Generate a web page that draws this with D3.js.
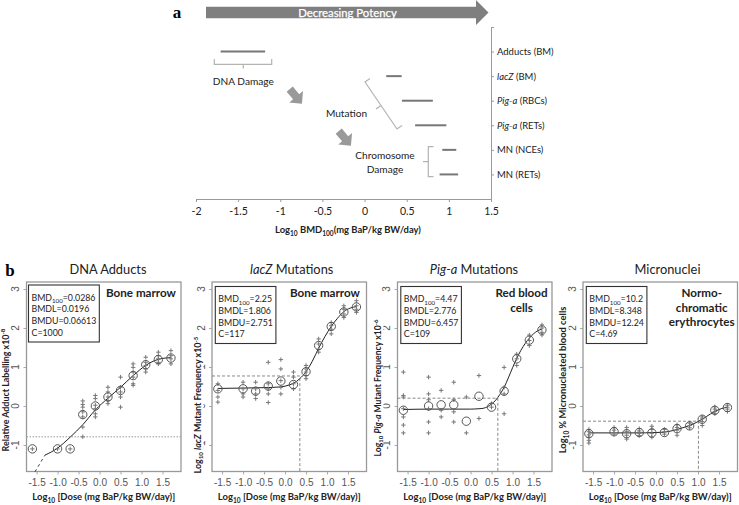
<!DOCTYPE html>
<html><head><meta charset="utf-8">
<script src="https://cdn.jsdelivr.net/npm/d3@7"></script>
<style>body{margin:0;background:#fff}svg{display:block}</style>
</head><body>
<svg id="c" width="739" height="505"></svg>
<script>
// ================= Panel a data =================
const endpoints = ["Adducts (BM)", "lacZ (BM)", "Pig-a (RBCs)", "Pig-a (RETs)", "MN (NCEs)", "MN (RETs)"];
const endpointItalic = ["", "lacZ", "Pig-a", "Pig-a", "", ""];
const bmdlLog = [-1.708, 0.257, 0.443, 0.60, 0.922, 0.89];
const bmduLog = [-1.180, 0.440, 0.810, 0.97, 1.088, 1.11];
const axisATicks = [-2, -1.5, -1, -0.5, 0, 0.5, 1, 1.5];

// ================= Panel b data =================
const doseLog = [-1.6, -1.0, -0.7, -0.4, -0.1, 0.2, 0.5, 0.8, 1.1, 1.4, 1.7];
const xTicksB = [-1.5, -1.0, -0.5, 0.0, 0.5, 1.0, 1.5];
const yTicksB = [-1, 0, 1, 2, 3];

// DNA adducts
const adductMeans = [-1.10, -1.10, -1.10, -0.22, 0.0, 0.23, 0.40, 0.78, 1.06, 1.19, 1.23];
const adductReps = [[-1.10], [-1.10], [-1.10],
  [0.13, 0.04, -0.03, -0.15, -0.28, -0.54, -0.79],
  [0.27, 0.19, 0.02, -0.07, -0.20, -0.28],
  [0.48, 0.36, 0.23, 0.14, 0.06],
  [0.74, 0.48, 0.36, 0.23, -0.03],
  [1.08, 0.99, 0.87, 0.74, 0.57, 0.53],
  [1.25, 1.12, 1.04, 0.95, 0.87],
  [1.38, 1.29, 1.21, 1.12, 1.08],
  [1.42, 1.29, 1.21, 1.08]];
const adductCurve = [[-1.30, -1.26], [-1.0, -1.08], [-0.7, -0.80], [-0.4, -0.48], [-0.1, -0.10], [0.2, 0.20], [0.5, 0.48], [0.8, 0.78], [1.1, 1.04], [1.3, 1.16], [1.5, 1.22], [1.7, 1.24]];
const adductTail = [[-1.54, -1.69], [-1.30, -1.26]];
const adductRef = -0.79;

// lacZ
const lacZMeans = [0.44, 0.44, 0.38, 0.51, 0.64, 0.55, 0.88, 1.55, 2.04, 2.41, 2.54];
const lacZReps = [[0.57, 0.40, 0.23, 0.10],
  [0.61, 0.44, 0.31, 0.23],
  [0.61, 0.44, 0.31, 0.19],
  [1.12, 0.57, 0.44, 0.31, 0.09],
  [1.19, 0.95, 0.65, 0.48, 0.31],
  [0.87, 0.74, 0.57, 0.44],
  [1.04, 0.95, 0.87, 0.78, 0.70],
  [1.72, 1.59, 1.46, 1.38],
  [2.14, 2.06, 1.97, 1.85],
  [2.57, 2.48, 2.36, 2.27],
  [2.70, 2.57, 2.48, 2.40]];
const lacZCurve = [[-1.6, 0.45], [-1.0, 0.46], [-0.5, 0.47], [-0.1, 0.49], [0.1, 0.54], [0.2, 0.58], [0.35, 0.70], [0.5, 0.88], [0.65, 1.15], [0.8, 1.48], [0.95, 1.78], [1.1, 2.04], [1.25, 2.25], [1.4, 2.42], [1.55, 2.51], [1.7, 2.55]];

// Pig-a
const pigaMeans = [-0.11, 0.0, 0.03, 0.03, -0.39, 0.25, -0.03, 0.38, 1.21, 1.69, 1.95];
const pigaReps = [[0.87, 0.27, 0.23, -0.07, -0.28, -0.49, -0.69],
  [0.74, 0.31, 0.16, -0.07, -0.41, -0.69],
  [0.40, -0.11, -0.28],
  [0.61, 0.16, -0.15, -0.41],
  [0.23, -0.69],
  [0.78, -0.32],
  [0.06, -0.03],
  [0.99, 0.48, 0.31, -0.20],
  [1.33, 1.21, 1.04],
  [1.82, 1.68, 1.55],
  [2.08, 2.00, 1.89, 1.82]];
const pigaCurve = [[-1.6, -0.09], [-1.0, -0.08], [-0.5, -0.08], [0.0, -0.08], [0.2, -0.07], [0.3, -0.06], [0.4, -0.02], [0.5, 0.05], [0.6, 0.15], [0.7, 0.30], [0.8, 0.48], [0.9, 0.72], [1.0, 0.98], [1.1, 1.22], [1.2, 1.43], [1.3, 1.60], [1.4, 1.74], [1.5, 1.85], [1.6, 1.93], [1.7, 1.97]];

// Micronuclei
const mnMeans = [-0.71, -0.66, -0.71, -0.68, -0.69, -0.68, -0.58, -0.51, -0.34, -0.11, -0.04];
const mnReps = [[-0.60, -0.66, -0.74, -0.80, -0.88, -0.95],
  [-0.55, -0.62, -0.68, -0.72],
  [-0.55, -0.65, -0.75, -0.85],
  [-0.58, -0.64, -0.70, -0.76],
  [-0.52, -0.60, -0.70, -0.80],
  [-0.60, -0.66, -0.72],
  [-0.48, -0.55, -0.62, -0.75],
  [-0.44, -0.50, -0.56],
  [-0.28, -0.33, -0.40, -0.50],
  [-0.02, -0.08, -0.14, -0.20],
  [0.02, -0.03, -0.08, -0.14]];
const mnCurve = [[-1.6, -0.69], [-1.0, -0.69], [-0.5, -0.69], [0.0, -0.68], [0.2, -0.67], [0.4, -0.63], [0.6, -0.57], [0.8, -0.50], [1.0, -0.40], [1.1, -0.34], [1.2, -0.27], [1.4, -0.14], [1.55, -0.07], [1.7, -0.03]];

// BMD box values
const bmd100Vals = ["0.0286", "2.25", "4.47", "10.2"];
const bmdlVals = ["0.0196", "1.806", "2.776", "8.348"];
const bmduVals = ["0.06613", "2.751", "6.457", "12.24"];
const cVals = ["1000", "117", "109", "4.69"];
const bmd100Log = [null, 0.352, 0.650, 1.009];
const bmdResp = [null, 0.77, 0.20, -0.39];
const tissues = [["Bone marrow"], ["Bone marrow"], ["Red blood", "cells"], ["Normo-", "chromatic", "erythrocytes"]];

// ================= drawing =================
const svg = d3.select("#c");
const FONT = "Lato, 'Open Sans', sans-serif";
svg.attr("font-family", FONT);

function rich(sel, parts, size) {
  let shift = 0;
  parts.forEach(p => {
    const ts = sel.append("tspan").text(p.t);
    let target = 0, fs = size;
    if (p.sub) { target = size * 0.28; fs = size * 0.7; }
    if (p.sup) { target = -size * 0.36; fs = size * 0.7; }
    ts.attr("dy", target - shift).attr("font-size", fs);
    if (p.it) ts.attr("font-style", "italic");
    shift = target;
  });
}
// size a text so that its width matches a width measured on the reference
function fitSize(parts, weight, target) {
  const t = svg.append("text").attr("font-weight", weight).attr("opacity", 0);
  rich(t, parts, 20);
  const w = t.node().getBBox().width;
  t.remove();
  return 20 * target / w;
}

// ---------- Panel a ----------
const gA = svg.append("g");
const xA = d3.scaleLinear().domain([-2, 1.5]).range([196, 491]);
const yA = d3.scaleLinear().domain([0, 7]).range([27, 199]);

svg.append("text").attr("x", 177).attr("y", 18).attr("text-anchor", "middle")
  .attr("font-family", "'Liberation Serif', serif").attr("font-weight", "bold").attr("font-size", 17).text("a");

// Decreasing potency arrow
const ay = 12.5;
gA.append("path")
  .attr("d", `M206,${ay - 5.7} L476,${ay - 5.7} L476,${ay - 12.5} L488.5,${ay} L476,${ay + 12.5} L476,${ay + 5.7} L206,${ay + 5.7} Z`)
  .attr("fill", "#7f7f7f");
const dpSize = fitSize([{t: "Decreasing Potency"}], "normal", 99);
gA.append("text").attr("x", 347.5).attr("y", ay + dpSize * 0.36).attr("text-anchor", "middle")
  .attr("fill", "#fff").attr("font-size", dpSize).attr("stroke", "#fff").attr("stroke-width", 0.25).text("Decreasing Potency");

const axABottom = gA.append("g").attr("transform", "translate(0,199)")
  .call(d3.axisBottom(xA).tickValues(axisATicks).tickSize(3).tickSizeOuter(0).tickFormat(d => String(d)));
axABottom.select(".domain").attr("stroke", "#9a9a9a");
axABottom.selectAll(".tick line").attr("stroke", "#9a9a9a");
axABottom.selectAll(".tick text").attr("font-family", FONT).attr("font-size", 10.5).attr("fill", "#222").attr("y", 9);

const axARight = gA.append("g").attr("transform", "translate(491,0)")
  .call(d3.axisRight(yA).tickValues([0, 1, 2, 3, 4, 5, 6]).tickSize(3).tickSizeOuter(0).tickFormat(""));
axARight.select(".domain").attr("stroke", "#9a9a9a");
axARight.selectAll(".tick line").attr("stroke", "#9a9a9a");

const catSize = fitSize([{t: "Pig-a", it: true}, {t: " (RBCs)"}], "normal", 50);
endpoints.forEach((e, i) => {
  const t = gA.append("text").attr("x", 497).attr("y", yA(i + 1) + catSize * 0.36).attr("font-size", catSize).attr("fill", "#222");
  const it = endpointItalic[i];
  if (it) {
    t.append("tspan").attr("font-style", "italic").text(it);
    t.append("tspan").text(e.slice(it.length));
  } else t.text(e);
});

gA.selectAll("line.bar").data(endpoints).enter().append("line").attr("class", "bar")
  .attr("x1", (d, i) => xA(bmdlLog[i])).attr("x2", (d, i) => xA(bmduLog[i]))
  .attr("y1", (d, i) => yA(i + 1)).attr("y2", (d, i) => yA(i + 1))
  .attr("stroke", "#777").attr("stroke-width", 2);

const axAParts = [{t: "Log"}, {t: "10", sub: true}, {t: " BMD"}, {t: "100", sub: true}, {t: "(mg BaP/kg BW/day)"}];
const axASize = fitSize(axAParts, "bold", 146);
const axATitle = gA.append("text").attr("x", 348).attr("y", 233).attr("text-anchor", "middle")
  .attr("font-weight", "bold").attr("fill", "#222");
rich(axATitle, axAParts, axASize);

// brackets & annotations
const brk = "#b3b3b3";
const annSize = fitSize([{t: "DNA Damage"}], "normal", 61);
gA.append("path").attr("d", "M214.3,59 L214.3,64.3 L271.7,64.3 L271.7,59 M243.3,64.3 L243.3,68.5")
  .attr("fill", "none").attr("stroke", brk).attr("stroke-width", 1.2);
gA.append("text").attr("x", 243.3).attr("y", 81 + annSize * 0.36).attr("text-anchor", "middle").attr("font-size", annSize).attr("fill", "#222").text("DNA Damage");

gA.append("path").attr("d", "M370,78.6 L365,82 L397,129 L402,125.6 M381,105.5 L376,108.9")
  .attr("fill", "none").attr("stroke", brk).attr("stroke-width", 1.2);
gA.append("text").attr("x", 346.5).attr("y", 113.5 + annSize * 0.36).attr("text-anchor", "middle").attr("font-size", annSize).attr("fill", "#222").text("Mutation");

gA.append("path").attr("d", "M433.5,146.7 L428.3,146.7 L428.3,176.7 L433.5,176.7 M428.3,161.7 L423,161.7")
  .attr("fill", "none").attr("stroke", brk).attr("stroke-width", 1.2);
gA.append("text").attr("x", 385).attr("y", 155 + annSize * 0.36).attr("text-anchor", "middle").attr("font-size", annSize).attr("fill", "#222").text("Chromosome");
gA.append("text").attr("x", 385).attr("y", 169.3 + annSize * 0.36).attr("text-anchor", "middle").attr("font-size", annSize).attr("fill", "#222").text("Damage");

function blockArrow(cx, cy, ang) {
  gA.append("path").attr("d", "M-9,-4 L1,-4 L1,-9 L10,0 L1,9 L1,4 L-9,4 Z")
    .attr("transform", `translate(${cx},${cy}) rotate(${ang})`).attr("fill", "#999");
}
blockArrow(295.5, 96, 50);
blockArrow(344.5, 138, 50);

// ---------- Panel b ----------
svg.append("text").attr("x", 10).attr("y", 276).attr("text-anchor", "middle")
  .attr("font-family", "'Liberation Serif', serif").attr("font-weight", "bold").attr("font-size", 17).text("b");

const panelLeft = [26.5, 212, 397.5, 583];
const pW = 154.5, pTop = 282, pBot = 471.5;
const titleCx = [108, 291.7, 474, 667.5];
const ylabX = [8.5, 201, 381, 566];
const ylabCy = [390, 405, 388, 380];
const ylabW = [123, 137, 137, 147];
const tissueDx = [114.5, 113, 124, 118.7];

const panels = [
  {title: [{t: "DNA Adducts"}], ylab: [{t: "Relative Adduct Labelling x10"}, {t: "-8", sup: true}],
   means: adductMeans, reps: adductReps, curve: adductCurve},
  {title: [{t: "lacZ", it: true}, {t: " Mutations"}], ylab: [{t: "Log"}, {t: "10", sub: true}, {t: " "}, {t: "lacZ", it: true}, {t: " Mutant Frequency x10"}, {t: "-5", sup: true}],
   means: lacZMeans, reps: lacZReps, curve: lacZCurve},
  {title: [{t: "Pig-a", it: true}, {t: " Mutations"}], ylab: [{t: "Log"}, {t: "10", sub: true}, {t: " "}, {t: "Pig-a", it: true}, {t: " Mutant Frequency x10"}, {t: "-6", sup: true}],
   means: pigaMeans, reps: pigaReps, curve: pigaCurve},
  {title: [{t: "Micronuclei"}], ylab: [{t: "Log"}, {t: "10", sub: true}, {t: " % Micronucleated blood cells"}],
   means: mnMeans, reps: mnReps, curve: mnCurve}
];

const titleSize = fitSize([{t: "DNA Adducts"}], "normal", 77);
const xlabParts = [{t: "Log"}, {t: "10", sub: true}, {t: " [Dose (mg BaP/kg BW/day)]"}];
const xlabSize = fitSize(xlabParts, "bold", 143);
const boxSize = fitSize([{t: "BMD"}, {t: "100", sub: true}, {t: "=0.0286"}], "normal", 64);
const tissueSize = fitSize([{t: "Bone marrow"}], "bold", 70);

panels.forEach((p, k) => {
  const L = panelLeft[k];
  const g = svg.append("g");
  const x = d3.scaleLinear().domain([-1.74, 1.94]).range([L, L + pW]);
  const y = d3.scaleLinear().domain([-1.68, 3.18]).range([pBot, pTop]);

  // title
  const tt = g.append("text").attr("x", titleCx[k]).attr("y", 269 + titleSize * 0.36).attr("text-anchor", "middle").attr("fill", "#222");
  rich(tt, p.title, titleSize);

  // axes
  const ax = g.append("g").attr("transform", `translate(0,${pBot})`)
    .call(d3.axisBottom(x).tickValues(xTicksB).tickSize(3).tickSizeOuter(0).tickFormat(d3.format(".1f")));
  ax.select(".domain").remove();
  ax.selectAll(".tick line").attr("stroke", "#aaa");
  ax.selectAll(".tick text").attr("font-family", "'Liberation Sans', Arial, sans-serif").attr("font-size", 10).attr("fill", "#555").attr("y", 7.5)
    .text(d => d3.format(".1f")(d).replace("\u2212", "-"));

  const ay2 = g.append("g").attr("transform", `translate(${L},0)`)
    .call(d3.axisLeft(y).tickValues(yTicksB).tickSize(3).tickSizeOuter(0).tickFormat(""));
  ay2.select(".domain").remove();
  ay2.selectAll(".tick line").attr("stroke", "#aaa");
  yTicksB.forEach(v => {
    g.append("text").attr("transform", `translate(${L - 11},${y(v)}) rotate(-90)`).attr("text-anchor", "middle")
      .attr("dy", "0.35em").attr("font-family", "'Liberation Sans', Arial, sans-serif").attr("font-size", 10).attr("fill", "#555").text(String(v));
  });

  // box
  g.append("rect").attr("x", L).attr("y", pTop).attr("width", pW).attr("height", pBot - pTop)
    .attr("fill", "none").attr("stroke", "#999").attr("stroke-width", 1.3);

  // y label
  const ys = fitSize(p.ylab, "bold", ylabW[k]);
  const yg = g.append("g").attr("transform", `translate(${ylabX[k]},${ylabCy[k]}) rotate(-90)`);
  const bg = yg.append("rect").attr("fill", "#fff");
  const yl = yg.append("text").attr("text-anchor", "middle").attr("dy", "0.35em").attr("font-weight", "bold").attr("fill", "#222");
  rich(yl, p.ylab, ys);
  const bb = yl.node().getBBox();
  bg.attr("x", bb.x - 1).attr("y", bb.y + 1).attr("width", bb.width + 2).attr("height", bb.height - 2);

  // x label
  const xl = g.append("text").attr("x", L + pW / 2).attr("y", 500).attr("text-anchor", "middle").attr("font-weight", "bold").attr("fill", "#222");
  rich(xl, xlabParts, xlabSize);

  // reference lines
  if (k === 0) {
    g.append("line").attr("x1", L).attr("x2", L + pW).attr("y1", y(adductRef)).attr("y2", y(adductRef))
      .attr("stroke", "#999").attr("stroke-dasharray", "1.5,1.5");
  } else {
    const bx = x(bmd100Log[k]), by = y(bmdResp[k]);
    g.append("path").attr("d", `M${L},${by} L${bx},${by} L${bx},${pBot}`).attr("fill", "none")
      .attr("stroke", "#888").attr("stroke-dasharray", "3,2");
  }

  // curve
  const line = d3.line().x(d => x(d[0])).y(d => y(d[1])).curve(d3.curveMonotoneX);
  g.append("path").attr("d", line(p.curve)).attr("fill", "none").attr("stroke", "#222").attr("stroke-width", 1);
  if (k === 0) {
    g.append("path").attr("d", line(adductTail)).attr("fill", "none").attr("stroke", "#444").attr("stroke-dasharray", "3,3");
  }

  // replicate points
  const pts = [];
  p.reps.forEach((arr, i) => arr.forEach(v => pts.push([doseLog[i], v])));
  g.selectAll("path.pt").data(pts).enter().append("path").attr("class", "pt")
    .attr("d", d => { const cx = x(d[0]), cy = y(d[1]); return `M${cx - 2.2},${cy}H${cx + 2.2}M${cx},${cy - 2.2}V${cy + 2.2}`; })
    .attr("stroke", "#777").attr("stroke-width", 1);

  // means
  g.selectAll("circle.m").data(p.means).enter().append("circle").attr("class", "m")
    .attr("cx", (d, i) => x(doseLog[i])).attr("cy", d => y(d)).attr("r", 4.2)
    .attr("fill", "none").attr("stroke", "#555").attr("stroke-width", 1);

  // info box
  const bxL = L + (k === 0 ? 2 : 3.3), byT = k === 0 ? 285 : 286.5;
  const ib = g.append("g");
  const rect = ib.append("rect").attr("x", bxL).attr("y", byT).attr("fill", "#fff").attr("stroke", "#333").attr("stroke-width", 1.1);
  const lines = [
    [{t: "BMD"}, {t: "100", sub: true}, {t: "=" + bmd100Vals[k]}],
    [{t: "BMDL=" + bmdlVals[k]}],
    [{t: "BMDU=" + bmduVals[k]}],
    [{t: "C=" + cVals[k]}]
  ];
  let maxW = 0;
  lines.forEach((ln, j) => {
    const t = ib.append("text").attr("x", bxL + 3).attr("y", byT + 12.7 + boxSize * 0.36 + j * 11.6).attr("fill", "#222");
    rich(t, ln, boxSize);
    maxW = Math.max(maxW, t.node().getBBox().width);
  });
  rect.attr("width", maxW + 6).attr("height", 57);

  // tissue label
  tissues[k].forEach((s, j) => {
    g.append("text").attr("x", L + tissueDx[k]).attr("y", 293.3 + tissueSize * 0.36 + j * 14.5).attr("text-anchor", "middle")
      .attr("font-weight", "bold").attr("font-size", tissueSize).attr("fill", "#222").text(s);
  });
});
</script>
</body></html>
